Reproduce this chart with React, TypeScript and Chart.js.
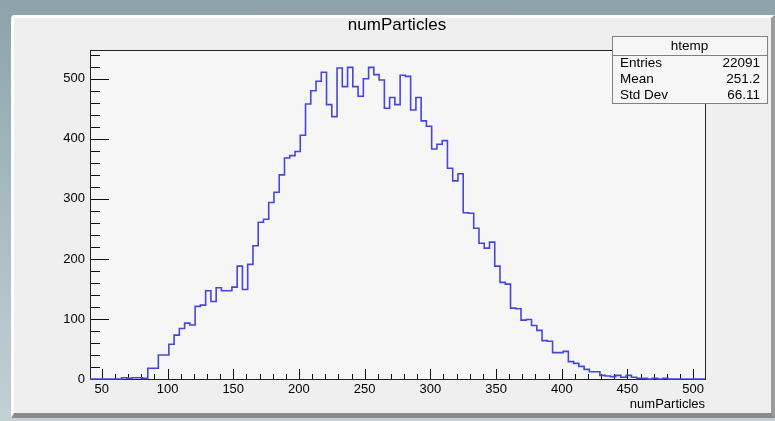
import React, { useEffect, useRef } from 'react';
import { Chart, registerables } from 'chart.js';

Chart.register(...registerables);

// ---- data ----
const binStart = 41;
const binWidth = 4;
const counts = [
  0, 0, 0, 0, 0, 0, 2, 1, 2, 2,
  1, 18, 18, 40, 40, 58, 73, 84, 93, 90,
  121, 123, 147, 129, 152, 147, 147, 153, 188, 149,
  191, 222, 261, 266, 294, 311, 340, 368, 372, 379,
  406, 458, 480, 496, 511, 457, 437, 518, 487, 519,
  487, 471, 500, 519, 507, 498, 451, 469, 457, 506,
  504, 448, 469, 430, 421, 383, 391, 397, 351, 330,
  342, 277, 276, 251, 226, 218, 228, 188, 161, 158,
  118, 117, 98, 99, 89, 81, 64, 63, 44, 44,
  46, 29, 26, 21, 16, 12, 12, 6, 5, 4,
  6, 3, 6, 3, 1, 1, 0, 1, 0, 1,
  0, 0, 0, 0, 0, 0, 0,
];
const xTickValues = [50, 100, 150, 200, 250, 300, 350, 400, 450, 500];
const yTickValues = [0, 100, 200, 300, 400, 500];
const xMinorStep = 10;
const yMinorStep = 20;
const yMax = 548;
const titleText = 'numParticles';
const xAxisTitle = 'numParticles';
const statsName = 'htemp';
const statsLabels = ['Entries', 'Mean', 'Std Dev'];
const statsValues = ['22091', '251.2', '66.11'];

// ---- style ----
const W = 775;
const H = 421;
const FONT = '"Liberation Sans", Arial, Helvetica, sans-serif';
const LINE_COLOR = '#4646dc';
const FRAME_FILL = '#f6f6f6';

const rootPlugin = {
  id: 'rootStyle',
  beforeDatasetsDraw(chart: any) {
    const ctx = chart.ctx;
    const { left, right, top, bottom } = chart.chartArea;
    const xs = chart.scales.x;
    const ys = chart.scales.y;
    ctx.save();
    ctx.strokeStyle = '#111';
    ctx.lineWidth = 1;
    ctx.beginPath();
    // x ticks (inward)
    const xFirst = Math.ceil(xs.min / xMinorStep) * xMinorStep;
    for (let v = xFirst; v <= xs.max; v += xMinorStep) {
      const px = Math.round(xs.getPixelForValue(v)) + 0.5;
      const len = v % 50 === 0 ? 10 : 5;
      ctx.moveTo(px, bottom);
      ctx.lineTo(px, bottom - len);
    }
    // y ticks (inward)
    for (let v = 0; v <= ys.max; v += yMinorStep) {
      const py = Math.round(ys.getPixelForValue(v)) + 0.5;
      const len = v % 100 === 0 ? 19 : 10;
      ctx.moveTo(left, py);
      ctx.lineTo(left + len, py);
    }
    ctx.stroke();
    // frame
    ctx.strokeStyle = '#222';
    ctx.strokeRect(Math.round(left) + 0.5, Math.round(top) + 0.5, Math.round(right - left), Math.round(bottom - top));
    ctx.restore();
  },
  beforeDraw(chart: any) {
    const ctx = chart.ctx;
    const { left, right, top, bottom } = chart.chartArea;
    ctx.save();
    ctx.fillStyle = FRAME_FILL;
    ctx.fillRect(left, top, right - left, bottom - top);
    ctx.restore();
  },
  afterDraw(chart: any) {
    const ctx = chart.ctx;
    const { right } = chart.chartArea;
    ctx.save();
    ctx.fillStyle = '#000';
    // title
    ctx.font = `17px ${FONT}`;
    ctx.textAlign = 'center';
    ctx.textBaseline = 'middle';
    ctx.fillText(titleText, 397, 25);
    // x axis title
    ctx.font = `13px ${FONT}`;
    ctx.textAlign = 'right';
    ctx.fillText(xAxisTitle, right, 404);
    // stats box
    const bx = 612, by = 36, bw = 155, bh = 67, hdr = 19;
    ctx.fillStyle = '#f6f6f6';
    ctx.fillRect(bx, by, bw, bh);
    ctx.strokeStyle = '#808080';
    ctx.lineWidth = 1;
    ctx.strokeRect(bx + 0.5, by + 0.5, bw, bh);
    ctx.beginPath();
    ctx.moveTo(bx, by + hdr + 0.5);
    ctx.lineTo(bx + bw, by + hdr + 0.5);
    ctx.stroke();
    ctx.fillStyle = '#000';
    ctx.font = `13.5px ${FONT}`;
    ctx.textAlign = 'center';
    ctx.fillText(statsName, bx + bw / 2, by + 10);
    const rowY = [63, 79, 95];
    statsLabels.forEach((lab, i) => {
      ctx.textAlign = 'left';
      ctx.fillText(lab, 620, rowY[i]);
      ctx.textAlign = 'right';
      ctx.fillText(statsValues[i], 760, rowY[i]);
    });
    ctx.restore();
  },
};

export default function App() {
  const canvasRef = useRef<HTMLCanvasElement | null>(null);

  useEffect(() => {
    const canvas = canvasRef.current;
    if (!canvas) return;
    const points = counts.map((c, i) => ({ x: binStart + i * binWidth, y: c }));
    points.push({ x: binStart + counts.length * binWidth, y: counts[counts.length - 1] });

    const chart = new Chart(canvas, {
      type: 'line',
      data: {
        datasets: [
          {
            data: points,
            stepped: 'before',
            borderColor: LINE_COLOR,
            borderWidth: 1.6,
            pointRadius: 0,
            fill: false,
            clip: 3,
          } as any,
        ],
      },
      options: {
        animation: false,
        responsive: false,
        maintainAspectRatio: false,
        layout: { padding: { left: 0, top: 50, right: 70, bottom: 0 } },
        plugins: { legend: { display: false }, tooltip: { enabled: false }, title: { display: false } },
        scales: {
          x: {
            type: 'linear',
            min: binStart,
            max: binStart + counts.length * binWidth,
            afterBuildTicks: (s: any) => {
              s.ticks = xTickValues.map((v) => ({ value: v }));
            },
            afterFit: (s: any) => {
              s.height = 42;
            },
            grid: { display: false, drawTicks: false },
            border: { display: false },
            ticks: {
              padding: 3,
              color: '#000',
              maxRotation: 0,
              autoSkip: false,
              font: { size: 13, family: FONT },
            },
          },
          y: {
            type: 'linear',
            min: 0,
            max: yMax,
            afterBuildTicks: (s: any) => {
              s.ticks = yTickValues.map((v) => ({ value: v }));
            },
            afterFit: (s: any) => {
              s.width = 90;
            },
            grid: { display: false, drawTicks: false },
            border: { display: false },
            ticks: {
              padding: 5,
              color: '#000',
              font: { size: 13, family: FONT },
            },
          },
        },
      },
      plugins: [rootPlugin],
    });
    return () => chart.destroy();
  }, []);

  return (
    <div
      style={{
        position: 'fixed',
        left: 0,
        top: 0,
        width: W,
        height: H,
        overflow: 'hidden',
        background: 'linear-gradient(180deg, #8ea2aa 0%, #a9bbc1 50%, #c3d0d4 100%)',
      }}
    >
      <div
        style={{
          position: 'absolute',
          left: 11,
          top: 15,
          width: 764,
          height: 403,
          boxSizing: 'border-box',
          background: '#efefef',
          borderTop: '3px solid #ffffff',
          borderLeft: '3px solid #ffffff',
          borderRight: '4px solid #9c9c9c',
          borderBottom: '5px solid #8a8a8a',
          borderTopLeftRadius: 4,
        }}
      />
      <canvas
        ref={canvasRef}
        width={W}
        height={H}
        style={{ position: 'absolute', left: 0, top: 0, width: W, height: H }}
      />
    </div>
  );
}
